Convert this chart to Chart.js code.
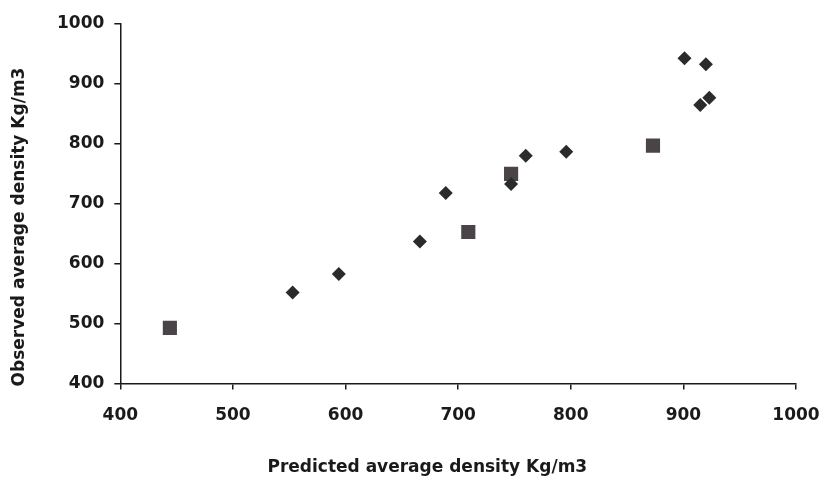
<!DOCTYPE html>
<html>
<head>
<meta charset="utf-8">
<style>
  html, body { margin: 0; padding: 0; background: #ffffff; }
  #wrap { width: 826px; height: 481px; position: relative; }
</style>
<script src="https://cdn.jsdelivr.net/npm/chart.js@4/dist/chart.umd.min.js"></script>
</head>
<body>
<div id="wrap"><canvas id="chart" width="826" height="481"></canvas></div>
<script>
// Predicted vs observed average density (Kg/m3)
const diamondPredicted = [553, 594, 666, 689, 747, 760, 796, 901, 920, 915, 923];
const diamondObserved  = [552, 583, 637, 718, 733, 780, 787, 943, 933, 865, 877];
const squarePredicted  = [444, 709, 747, 873];
const squareObserved   = [493, 653, 750, 797];

const xTicks = [400, 500, 600, 700, 800, 900, 1000];
const yTicks = [400, 500, 600, 700, 800, 900, 1000];

const xTitle = 'Predicted average density Kg/m3';
const yTitle = 'Observed average density Kg/m3';

const toPoints = (xs, ys) => xs.map((x, i) => ({ x: x, y: ys[i] }));

const font = { family: '"DejaVu Sans", sans-serif', size: 17, weight: 'bold' };
const fontCss = 'bold 17px "DejaVu Sans", sans-serif';
const ink = '#1a1a1a';

// Axis titles drawn relative to the plot area (slightly off-centre, as in the printed figure)
const axisTitles = {
  id: 'axisTitles',
  afterDraw(chart, args, opts) {
    const { ctx, chartArea } = chart;
    ctx.save();
    ctx.fillStyle = ink;
    ctx.font = fontCss;
    ctx.textAlign = 'center';
    ctx.textBaseline = 'alphabetic';
    ctx.fillText(xTitle, chartArea.left + opts.xTitleOffset, chartArea.bottom + opts.xTitleDrop);
    ctx.translate(opts.yTitleX, chartArea.top + opts.yTitleOffset);
    ctx.rotate(-Math.PI / 2);
    ctx.textBaseline = 'middle';
    ctx.fillText(yTitle, 0, 0);
    ctx.restore();
  }
};

new Chart(document.getElementById('chart'), {
  type: 'scatter',
  data: {
    datasets: [
      {
        label: 'Diamonds',
        data: toPoints(diamondPredicted, diamondObserved),
        pointStyle: 'rectRot',
        pointRadius: 7,
        pointHoverRadius: 7,
        backgroundColor: '#2b2b2b',
        borderColor: '#2b2b2b',
        borderWidth: 0
      },
      {
        label: 'Squares',
        data: toPoints(squarePredicted, squareObserved),
        pointStyle: 'rect',
        pointRadius: 10,
        pointHoverRadius: 10,
        backgroundColor: '#4a4448',
        borderColor: '#4a4448',
        borderWidth: 0
      }
    ]
  },
  plugins: [axisTitles],
  options: {
    responsive: false,
    animation: false,
    layout: { padding: { left: 47, right: 0, top: 24, bottom: 39 } },
    plugins: {
      legend: { display: false },
      tooltip: { enabled: false },
      axisTitles: { xTitleOffset: 307, xTitleDrop: 88, yTitleX: 20, yTitleOffset: 203 }
    },
    scales: {
      x: {
        type: 'linear',
        min: 400,
        max: 1000,
        afterBuildTicks: (s) => { s.ticks = xTicks.map(v => ({ value: v })); },
        afterFit: (s) => { s.paddingRight = 30; },
        border: { display: true, color: ink, width: 1.5 },
        grid: { display: true, drawOnChartArea: false, drawTicks: true, tickLength: 6, color: ink, lineWidth: 1.5 },
        ticks: { color: ink, font: font, padding: 16, maxRotation: 0, callback: (v) => String(v) },
        title: { display: false }
      },
      y: {
        type: 'linear',
        min: 400,
        max: 1000,
        afterBuildTicks: (s) => { s.ticks = yTicks.map(v => ({ value: v })); },
        border: { display: true, color: ink, width: 1.5 },
        grid: { display: true, drawOnChartArea: false, drawTicks: true, tickLength: 6, color: ink, lineWidth: 1.5 },
        ticks: { color: ink, font: font, padding: 10, callback: (v) => String(v) },
        title: { display: false }
      }
    }
  }
});
</script>
</body>
</html>
